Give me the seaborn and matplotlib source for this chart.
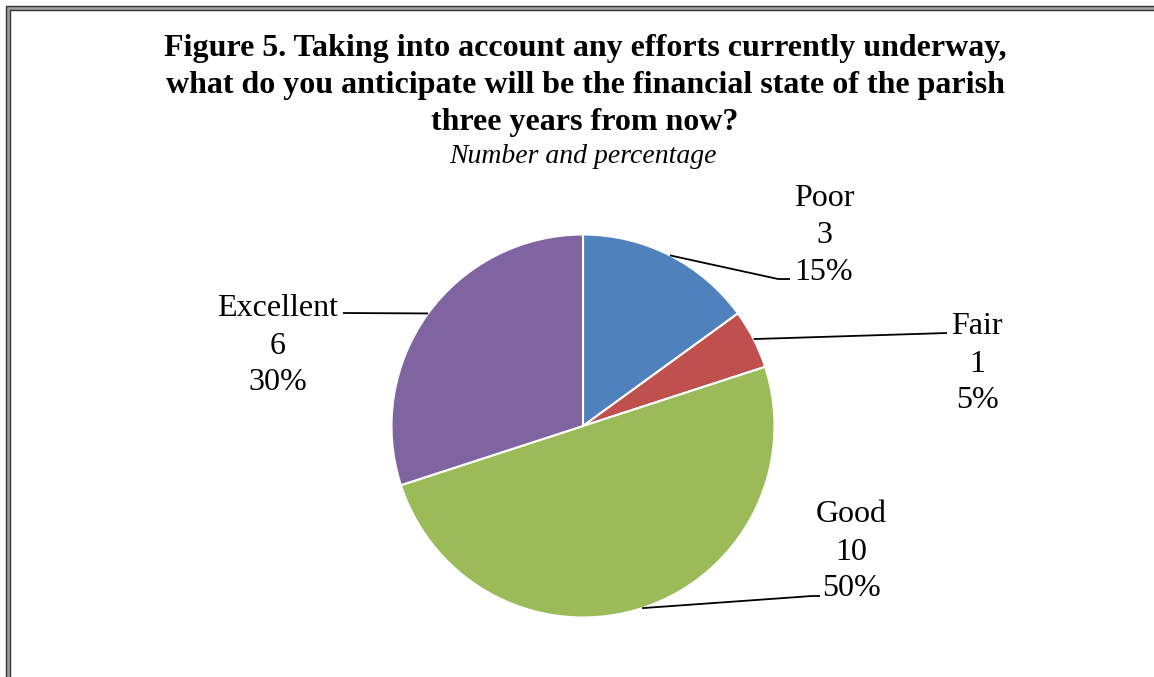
import numpy as np
import matplotlib
matplotlib.use('Agg')
import matplotlib.pyplot as plt
import seaborn as sns
from matplotlib.lines import Line2D

sns.set_theme(style='white')
plt.rcParams['font.family'] = ['Liberation Serif', 'DejaVu Serif']

# ==========================================
# data
# ==========================================
categories = ['Poor', 'Fair', 'Good', 'Excellent']
counts = [3, 1, 10, 6]
percents = ['15%', '5%', '50%', '30%']
colors = ['#4F81BD', '#C0504D', '#9BBB59', '#8064A2']

title_lines = ['Figure 5. Taking into account any efforts currently underway,',
               'what do you anticipate will be the financial state of the parish',
               'three years from now?']
subtitle = 'Number and percentage'

# ==========================================
# layout (pixels)
# ==========================================
W, H = 1154, 677
cx, cy = 583, 426      # pie centre
R = 191.5              # pie radius
# label centre (middle line) and leader elbow/end, offsets from pie centre in px (y up)
label_layout = {
    'Poor':      dict(text=(241, 194), elbow=(195, 147), end=(207, 147)),
    'Fair':      dict(text=(394, 65),  elbow=(364, 93),  end=(364, 93)),
    'Good':      dict(text=(268, -123), elbow=(229, -170), end=(237, -170)),
    'Excellent': dict(text=(-305, 83), elbow=(-240, 113), end=(-240, 113)),
}
line_gap = 37
label_size = 23

fig = plt.figure(figsize=(W / 100, H / 100), dpi=100)
fig.patch.set_facecolor('white')

ax = fig.add_axes([0, 0, 1, 1])
wedges, _ = ax.pie(counts, colors=colors, startangle=90, counterclock=False,
                   radius=1, wedgeprops=dict(edgecolor='white', linewidth=1.5))
ax.set_aspect('auto')
ax.set_xlim(-cx / R, (W - cx) / R)
ax.set_ylim(-(H - cy) / R, cy / R)
ax.axis('off')

# labels with leader lines
for w, cat, n, pct in zip(wedges, categories, counts, percents):
    lay = label_layout[cat]
    mid = np.deg2rad((w.theta1 + w.theta2) / 2)
    x0, y0 = np.cos(mid), np.sin(mid)
    ex, ey = lay['elbow'][0] / R, lay['elbow'][1] / R
    fx, fy = lay['end'][0] / R, lay['end'][1] / R
    ax.plot([x0, ex, fx], [y0, ey, fy], color='black', lw=1.3,
            solid_capstyle='butt')
    tx, ty = lay['text'][0] / R, lay['text'][1] / R
    base = (-10.5) / R
    for k, s in enumerate([cat, str(n), pct]):
        ax.text(tx, ty + base - (k - 1) * line_gap / R, s, ha='center', va='baseline',
                fontsize=label_size, color='black')

# title
title_baselines = [56, 93, 130]
for s, yb in zip(title_lines, title_baselines):
    fig.text(585 / W, 1 - yb / H, s, ha='center', va='baseline',
             fontsize=23, fontweight='bold', color='black')
fig.text(583 / W, 1 - 163 / H, subtitle, ha='center', va='baseline',
         fontsize=20, fontstyle='italic', color='black')

# double border on top and left
def px_line(x, y, **kw):
    fig.add_artist(Line2D([xx / W for xx in x], [1 - yy / H for yy in y],
                          transform=fig.transFigure, **kw))

px_line([8, W], [7.5, 7.5], color='#A0A0A0', lw=3.5)
px_line([8, 8], [7.5, H], color='#A0A0A0', lw=3.5)
for off in (5.5, 9.5):
    px_line([off, W], [off, off], color='#333333', lw=1.0)
    px_line([off + 0.5, off + 0.5], [off, H], color='#333333', lw=1.0)

plt.savefig('out.png', dpi=100)
